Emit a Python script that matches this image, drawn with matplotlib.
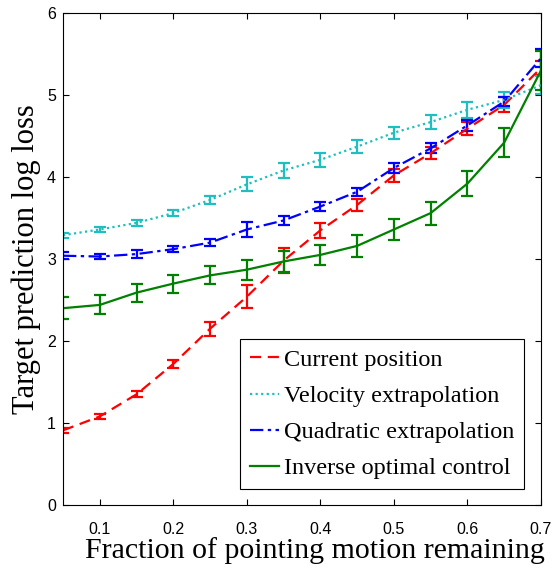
#!/usr/bin/env python
"""Target prediction log loss against fraction of pointing motion remaining."""

# Third party modules.
import numpy as np
import matplotlib
matplotlib.use("Agg")
import matplotlib.pyplot as plt

# Data.
fractions = [0.05, 0.10, 0.15, 0.20, 0.25, 0.30, 0.35,
             0.40, 0.45, 0.50, 0.55, 0.60, 0.65, 0.70]

currentPosition = [0.91, 1.08, 1.35, 1.72, 2.15, 2.54, 2.98,
                   3.35, 3.66, 4.02, 4.29, 4.59, 4.88, 5.33]
currentPositionErr = [0.03, 0.035, 0.035, 0.045, 0.085, 0.14, 0.15,
                      0.095, 0.07, 0.075, 0.075, 0.08, 0.09, 0.08]

velocityExtrapolation = [3.29, 3.36, 3.44, 3.56, 3.72, 3.91, 4.08,
                         4.21, 4.37, 4.54, 4.67, 4.82, 4.94, 5.12]
velocityExtrapolationErr = [0.03, 0.03, 0.04, 0.04, 0.05, 0.085, 0.095,
                            0.085, 0.08, 0.075, 0.09, 0.095, 0.095, 0.11]

quadraticExtrapolation = [3.04, 3.03, 3.06, 3.12, 3.20, 3.36, 3.47,
                          3.64, 3.82, 4.11, 4.35, 4.63, 4.92, 5.45]
quadraticExtrapolationErr = [0.04, 0.03, 0.05, 0.04, 0.04, 0.09, 0.05,
                             0.05, 0.05, 0.06, 0.06, 0.07, 0.06, 0.11]

inverseOptimalControl = [2.40, 2.44, 2.59, 2.70, 2.80, 2.87, 2.97,
                         3.05, 3.16, 3.36, 3.56, 3.92, 4.42, 5.30]
inverseOptimalControlErr = [0.135, 0.115, 0.11, 0.11, 0.11, 0.12, 0.13,
                            0.125, 0.13, 0.13, 0.14, 0.155, 0.18, 0.24]

seriesLabels = ["Current position", "Velocity extrapolation",
                "Quadratic extrapolation", "Inverse optimal control"]

xTicks = [0.1, 0.2, 0.3, 0.4, 0.5, 0.6, 0.7]
yTicks = [0, 1, 2, 3, 4, 5, 6]


def runPlot():
    serifFont = ["Liberation Serif", "DejaVu Serif"]
    sansFont = ["Liberation Sans", "DejaVu Sans"]

    fig = plt.figure(figsize=(5.53, 5.68), dpi=100)
    ax = fig.add_axes([63/553, 1 - 505/568, (541 - 63)/553, (505 - 13)/568])

    series = [
        (currentPosition, currentPositionErr, "#ff0000", (0, (5, 3))),
        (velocityExtrapolation, velocityExtrapolationErr, "#1fbfbf", (0, (1, 1.5))),
        (quadraticExtrapolation, quadraticExtrapolationErr, "#0000ff", (0, (6, 2, 1.5, 2))),
        (inverseOptimalControl, inverseOptimalControlErr, "#008000", "-"),
    ]

    for (values, errors, color, style), label in zip(series, seriesLabels):
        container = ax.errorbar(fractions, values, yerr=errors, color=color,
                                linestyle=style, linewidth=1.6, elinewidth=1.6,
                                capsize=4, capthick=1.6, label=label)
        container[-1][0].set_linestyle("-")

    ax.set_xlim(0.05, 0.7)
    ax.set_ylim(0, 6)
    ax.set_xticks(xTicks)
    ax.set_yticks(yTicks)
    ax.set_xticklabels([str(t) for t in xTicks], family=sansFont, fontsize=11.5)
    ax.set_yticklabels([str(t) for t in yTicks], family=sansFont, fontsize=11.5)
    ax.tick_params(direction="in", length=4, width=0.8, top=True, right=True)
    ax.tick_params(axis="x", pad=12)
    ax.tick_params(axis="y", pad=5)

    ax.set_xlabel("Fraction of pointing motion remaining", family=serifFont,
                  fontsize=21.5, labelpad=0)
    ax.xaxis.label.set_x(0.527)
    ax.set_ylabel("Target prediction log loss", family=serifFont,
                  fontsize=22, labelpad=4)

    handles, labels = ax.get_legend_handles_labels()
    handles = [h[0] for h in handles]
    legend = ax.legend(handles, labels, loc="lower right",
                       bbox_to_anchor=(524/553, 1 - 489/568),
                       bbox_transform=fig.transFigure,
                       prop={"family": serifFont, "size": 17.5},
                       fancybox=False, edgecolor="black", framealpha=1,
                       handlelength=1.2, borderpad=0.4, labelspacing=0.58,
                       handletextpad=0.2, borderaxespad=0)
    legend.get_frame().set_linewidth(0.8)

    fig.savefig("out.png", dpi=100)


if __name__ == '__main__':
    runPlot()
